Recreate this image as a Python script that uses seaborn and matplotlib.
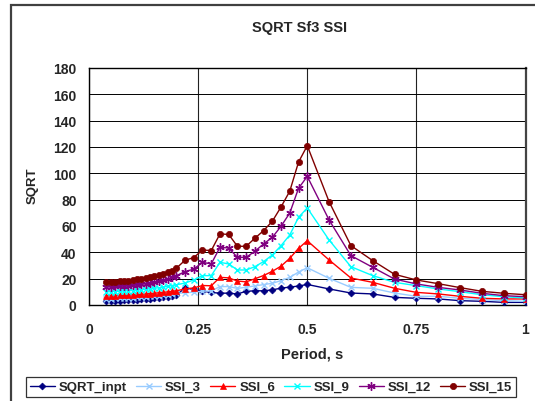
import numpy as np
import pandas as pd
import matplotlib
matplotlib.use("Agg")
import matplotlib.pyplot as plt
from matplotlib.patches import Rectangle
import seaborn as sns

periods = ([0.04, 0.05, 0.06, 0.07, 0.08, 0.09, 0.10, 0.11, 0.12, 0.13, 0.14,
            0.15, 0.16, 0.17, 0.18, 0.19, 0.20]
           + [0.22, 0.24, 0.26, 0.28, 0.30, 0.32, 0.34, 0.36, 0.38, 0.40, 0.42,
              0.44, 0.46, 0.48, 0.50]
           + [0.55, 0.60, 0.65, 0.70, 0.75, 0.80, 0.85, 0.90, 0.95, 1.00])

sqrt_inpt = [3.2, 3.3, 3.3, 3.4, 3.5, 3.6, 3.8, 4.0, 4.2, 4.4, 4.7, 5.0, 5.4, 5.8, 6.3, 6.8, 7.4,
             13.0, 11.8, 10.6, 9.5, 9.0, 9.0, 8.4, 10.4, 10.8, 10.8, 11.5, 12.8, 13.6, 14.4, 15.6,
             12.2, 9.1, 8.4, 5.8, 5.1, 4.6, 3.3, 2.8, 2.0, 2.0]
ssi_3 = [4.8, 4.9, 5.0, 5.1, 5.2, 5.4, 5.6, 5.8, 6.0, 6.2, 6.5, 6.8, 7.1, 7.5, 7.9, 8.4, 8.9,
         9.2, 9.8, 10.5, 10.6, 14.0, 14.0, 12.6, 13.5, 14.5, 15.5, 16.5, 18.5, 21.0, 25.0, 28.3,
         20.3, 13.4, 12.7, 9.1, 6.6, 6.6, 5.1, 4.1, 3.3, 2.8]
ssi_6 = [7.0, 7.1, 7.2, 7.3, 7.4, 7.6, 7.8, 8.0, 8.2, 8.4, 8.7, 9.0, 9.3, 9.6, 10.0, 10.4, 10.8,
         12.2, 13.0, 14.8, 14.6, 21.0, 20.6, 18.2, 17.6, 19.9, 22.4, 25.6, 29.5, 35.5, 43.0, 48.8,
         34.2, 20.5, 17.2, 12.7, 9.6, 8.4, 6.6, 5.1, 4.6, 4.6]
ssi_9 = [10.0, 10.1, 10.2, 10.4, 10.6, 10.8, 11.0, 11.3, 11.6, 11.9, 12.3, 12.7, 13.1, 13.6, 14.2, 14.8, 15.3,
         16.7, 19.0, 22.3, 22.3, 32.4, 31.2, 26.6, 26.6, 29.1, 33.0, 38.0, 45.1, 53.2, 66.6, 73.7,
         49.4, 29.1, 22.3, 17.2, 14.7, 12.2, 10.1, 7.8, 6.3, 5.3]
ssi_12 = [13.8, 13.9, 14.1, 14.3, 14.5, 14.8, 15.1, 15.4, 15.8, 16.3, 16.8, 17.4, 18.0, 18.8, 19.8, 21.0, 22.3,
          25.3, 27.3, 32.4, 31.2, 43.8, 43.3, 36.2, 36.2, 40.8, 46.4, 51.4, 59.8, 69.9, 88.6, 97.7,
          64.6, 37.5, 28.6, 19.7, 16.0, 13.4, 11.4, 8.9, 7.1, 6.3]
ssi_15 = [17.5, 17.6, 17.8, 18.0, 18.3, 18.6, 19.0, 19.4, 19.9, 20.5, 21.1, 21.8, 22.6, 23.5, 24.8, 26.1, 27.9,
          34.0, 36.0, 41.8, 41.3, 54.0, 53.6, 44.6, 44.6, 50.7, 56.5, 63.6, 74.5, 86.5, 108.5, 121.0,
          78.5, 45.1, 33.7, 23.3, 19.0, 16.2, 13.2, 10.4, 8.9, 7.8]

series_names = ["SQRT_inpt", "SSI_3", "SSI_6", "SSI_9", "SSI_12", "SSI_15"]
series_values = [sqrt_inpt, ssi_3, ssi_6, ssi_9, ssi_12, ssi_15]
x_ticks = [0, 0.25, 0.5, 0.75, 1]
x_tick_labels = ["0", "0.25", "0.5", "0.75", "1"]
y_ticks = [0, 20, 40, 60, 80, 100, 120, 140, 160, 180]

colors = ["#000080", "#99CCFF", "#FF0000", "#00FFFF", "#800080", "#800000"]
markers = ["D", "x", "^", "x", (6, 2, 0), "o"]
msizes = [3.5, 4.5, 5, 4.5, 6, 4.5]

sns.set_style("white")
plt.rcParams["font.family"] = ["Liberation Sans", "DejaVu Sans"]
plt.rcParams["font.weight"] = "bold"

fig = plt.figure(figsize=(5.35, 4.02), dpi=100)
W, H = 535, 402
ax = fig.add_axes([89 / W, 1 - 306 / H, (525.5 - 89) / W, (306 - 69) / H])

# outer chart border (top & left visible, right/bottom cut off)
fig.patches.append(Rectangle((11 / W, -0.1), 1.2, (1 - 6 / H) + 0.1, transform=fig.transFigure,
                             fill=False, edgecolor="#404040", linewidth=1.6, zorder=0))

frames = []
for name, vals in zip(series_names, series_values):
    frames.append(pd.DataFrame({"Period": periods, "value": vals, "series": name}))
df = pd.concat(frames, ignore_index=True)

for name, c, m, ms in zip(series_names, colors, markers, msizes):
    sub = df[df["series"] == name]
    sns.lineplot(data=sub, x="Period", y="value", ax=ax, color=c, marker=m,
                 markersize=ms, markeredgecolor=c, markerfacecolor=c,
                 markeredgewidth=1.0 if m in ("x", (6, 2, 0)) else 0.5,
                 linewidth=1.0, label=name, legend=False, zorder=3)

ax.set_xlim(0, 1)
ax.set_ylim(0, 180)
ax.set_xticks(x_ticks)
ax.set_xticklabels(x_tick_labels)
ax.set_yticks(y_ticks)
ax.grid(True, axis="y", color="#000000", linewidth=0.7)
ax.grid(True, axis="x", color="#222222", linewidth=0.8)
ax.set_axisbelow(True)
for s in ["left", "bottom", "top"]:
    ax.spines[s].set_color("black")
    ax.spines[s].set_linewidth(1.0)
ax.spines["right"].set_color("#444444")
ax.spines["right"].set_linewidth(1.6)
ax.tick_params(axis="both", which="both", direction="out", length=4, width=0.8,
               color="black", labelsize=10, pad=5)
ax.tick_params(axis="x", pad=8)
for lab in ax.get_xticklabels() + ax.get_yticklabels():
    lab.set_fontweight("bold")
ax.set_xlabel("")
ax.set_ylabel("")

fig.text(300 / W, 1 - 28 / H, "SQRT Sf3 SSI", ha="center", va="center",
         fontsize=10.5, fontweight="bold")
fig.text(33 / W, 1 - 186 / H, "SQRT", ha="center", va="center", rotation=90,
         fontsize=9.5, fontweight="bold")
fig.text(312 / W, 1 - 355 / H, "Period, s", ha="center", va="center",
         fontsize=10.5, fontweight="bold")

handles, labels = ax.get_legend_handles_labels()
leg = fig.legend(handles, labels, loc="center", bbox_to_anchor=(271 / W, 1 - 388 / H),
                 ncol=6, frameon=True, fancybox=False, edgecolor="black",
                 fontsize=9.5, handlelength=1.9, handletextpad=0.3,
                 columnspacing=0.7, borderpad=0.3, borderaxespad=0)
leg.get_frame().set_linewidth(0.9)
for t in leg.get_texts():
    t.set_fontweight("bold")

fig.savefig("out.png", dpi=100)
